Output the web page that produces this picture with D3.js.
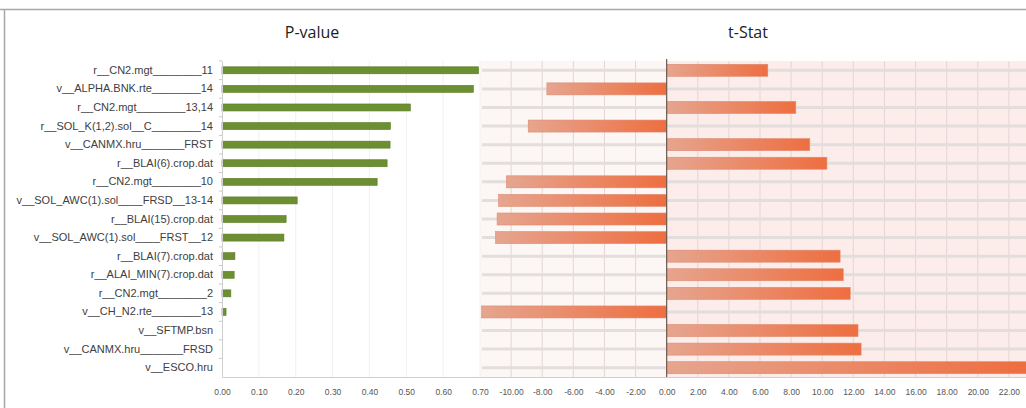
<!DOCTYPE html>
<html>
<head>
<meta charset="utf-8">
<script src="https://cdn.jsdelivr.net/npm/d3@7"></script>
<style>
  body { margin: 0; background: #fff; }
  svg { display: block; font-family: 'Open Sans', 'Liberation Sans', sans-serif; }
</style>
</head>
<body>
<div id="chart"></div>
<script>
// parameters, top to bottom
var params = [
	'r__CN2.mgt________11',
	'v__ALPHA.BNK.rte________14',
	'r__CN2.mgt________13,14',
	'r__SOL_K(1,2).sol__C________14',
	'v__CANMX.hru_______FRST',
	'r__BLAI(6).crop.dat',
	'r__CN2.mgt________10',
	'v__SOL_AWC(1).sol____FRSD__13-14',
	'r__BLAI(15).crop.dat',
	'v__SOL_AWC(1).sol____FRST__12',
	'r__BLAI(7).crop.dat',
	'r__ALAI_MIN(7).crop.dat',
	'r__CN2.mgt________2',
	'v__CH_N2.rte________13',
	'v__SFTMP.bsn',
	'v__CANMX.hru_______FRSD',
	'v__ESCO.hru'
];
var pValues = [0.696, 0.682, 0.511, 0.457, 0.456, 0.448, 0.421, 0.204, 0.174, 0.168, 0.035, 0.033, 0.024, 0.011, 0, 0, 0];
var tStats = [6.5, -7.7, 8.3, -8.9, 9.2, 10.3, -10.3, -10.8, -10.9, -11.0, 11.15, 11.35, 11.8, -11.9, 12.3, 12.5, 23.2];
var pTicks = [0, 0.1, 0.2, 0.3, 0.4, 0.5, 0.6, 0.7];
var tTicks = [-10, -8, -6, -4, -2, 0, 2, 4, 6, 8, 10, 12, 14, 16, 18, 20, 22];

var W = 1026, H = 408;
var TOP = 61, BOTTOM = 377;
var P_LEFT = 222, P_RIGHT = 480, T_RIGHT = 1026;

var svg = d3.select('#chart').append('svg')
	.attr('width', W)
	.attr('height', H);

var defs = svg.append('defs');
var grad = defs.append('linearGradient').attr('id', 'barGrad')
	.attr('x1', '0%').attr('x2', '100%').attr('y1', '0%').attr('y2', '0%');
grad.append('stop').attr('offset', '0%').attr('stop-color', '#e6a58f');
grad.append('stop').attr('offset', '100%').attr('stop-color', '#ee6e40');

// frame
svg.append('line').attr('x1', 0).attr('x2', W).attr('y1', 9.5).attr('y2', 9.5)
	.style('stroke', '#a8a8a8').style('stroke-width', 1.5);
svg.append('line').attr('x1', 4.5).attr('x2', 4.5).attr('y1', 9.5).attr('y2', H)
	.style('stroke', '#a8a8a8').style('stroke-width', 1.5);

var y = d3.scaleBand().domain(params).range([TOP, BOTTOM]).paddingInner(0);
var xP = d3.scaleLinear().domain([0, 0.7]).range([P_LEFT, P_RIGHT]);
var xT = d3.scaleLinear().domain([-12, 23.1]).range([P_RIGHT, T_RIGHT]);

// t-Stat panel background
svg.append('rect').attr('x', xT(-12)).attr('y', TOP)
	.attr('width', xT(0) - xT(-12)).attr('height', BOTTOM - TOP)
	.attr('fill', '#fcf6f5');
svg.append('rect').attr('x', xT(0)).attr('y', TOP)
	.attr('width', T_RIGHT - xT(0)).attr('height', BOTTOM - TOP)
	.attr('fill', '#fcecea');

// vertical grid, P panel
svg.append('g').selectAll('line').data(pTicks.slice(1)).enter().append('line')
	.attr('x1', function (d) { return xP(d); })
	.attr('x2', function (d) { return xP(d); })
	.attr('y1', TOP).attr('y2', BOTTOM)
	.style('stroke', '#f0f0f0');

// vertical grid, t panel
svg.append('g').selectAll('line').data(tTicks).enter().append('line')
	.attr('x1', function (d) { return xT(d); })
	.attr('x2', function (d) { return xT(d); })
	.attr('y1', TOP).attr('y2', BOTTOM)
	.style('stroke', '#e2d6d4');

// horizontal row lines, t panel
svg.append('g').selectAll('line').data(params).enter().append('line')
	.attr('x1', P_RIGHT + 2).attr('x2', T_RIGHT)
	.attr('y1', function (d) { return y(d) + y.bandwidth() / 2; })
	.attr('y2', function (d) { return y(d) + y.bandwidth() / 2; })
	.style('stroke', '#e3dddc').style('stroke-width', 3);

// P-value bars
svg.append('g').selectAll('rect').data(params).enter().append('rect')
	.attr('x', xP(0))
	.attr('y', function (d) { return y(d) + y.bandwidth() / 2 - 3.5; })
	.attr('width', function (d, i) { return xP(pValues[i]) - xP(0); })
	.attr('height', 7)
	.attr('fill', '#6c8f31')
	.style('stroke', '#5a7a26').style('stroke-width', 0.6);

// t-Stat bars
svg.append('g').selectAll('rect').data(params).enter().append('rect')
	.attr('x', function (d, i) { return Math.min(xT(0), xT(tStats[i])); })
	.attr('y', function (d) { return y(d) + y.bandwidth() / 2 - 6; })
	.attr('width', function (d, i) { return Math.abs(xT(tStats[i]) - xT(0)); })
	.attr('height', 12)
	.attr('fill', 'url(#barGrad)')
	.style('stroke', '#dc8a70').style('stroke-width', 0.6);

// zero line
svg.append('line').attr('x1', xT(0)).attr('x2', xT(0)).attr('y1', TOP - 2).attr('y2', BOTTOM)
	.style('stroke', '#6b5a52').style('stroke-width', 1.2);

// category axis
var yAxis = d3.axisLeft(y).tickSize(0).tickPadding(9);
var gy = svg.append('g').attr('transform', 'translate(' + P_LEFT + ',0)').call(yAxis);
gy.select('.domain').style('stroke', '#d0d0d0');
gy.selectAll('text').style('font-size', '11px').attr('fill', '#404040');
gy.selectAll('.edge').data(params).enter().append('line').attr('class', 'edge')
	.attr('x1', -3).attr('x2', 0)
	.attr('y1', function (d) { return y(d); })
	.attr('y2', function (d) { return y(d); })
	.style('stroke', '#c8c8c8');

// bottom axes
var xPAxis = d3.axisBottom(xP).tickValues(pTicks).tickSize(0).tickPadding(12)
	.tickFormat(function (d) { return d.toFixed(2); });
var gxP = svg.append('g').attr('transform', 'translate(0,' + BOTTOM + ')').call(xPAxis);

var xTAxis = d3.axisBottom(xT).tickValues(tTicks).tickSize(0).tickPadding(12)
	.tickFormat(function (d) { return d.toFixed(2); });
var gxT = svg.append('g').attr('transform', 'translate(0,' + BOTTOM + ')').call(xTAxis);

svg.selectAll('.domain').style('stroke', '#cfcfcf');
gxP.selectAll('text').style('font-size', '8.5px').attr('fill', '#555');
gxT.selectAll('text').style('font-size', '8.5px').attr('fill', '#555');

// titles
svg.append('text').attr('x', 312).attr('y', 38).attr('text-anchor', 'middle')
	.style('font-size', '16px').attr('fill', '#222').text('P-value');
svg.append('text').attr('x', 748).attr('y', 38).attr('text-anchor', 'middle')
	.style('font-size', '16px').attr('fill', '#222').text('t-Stat');
</script>
</body>
</html>
